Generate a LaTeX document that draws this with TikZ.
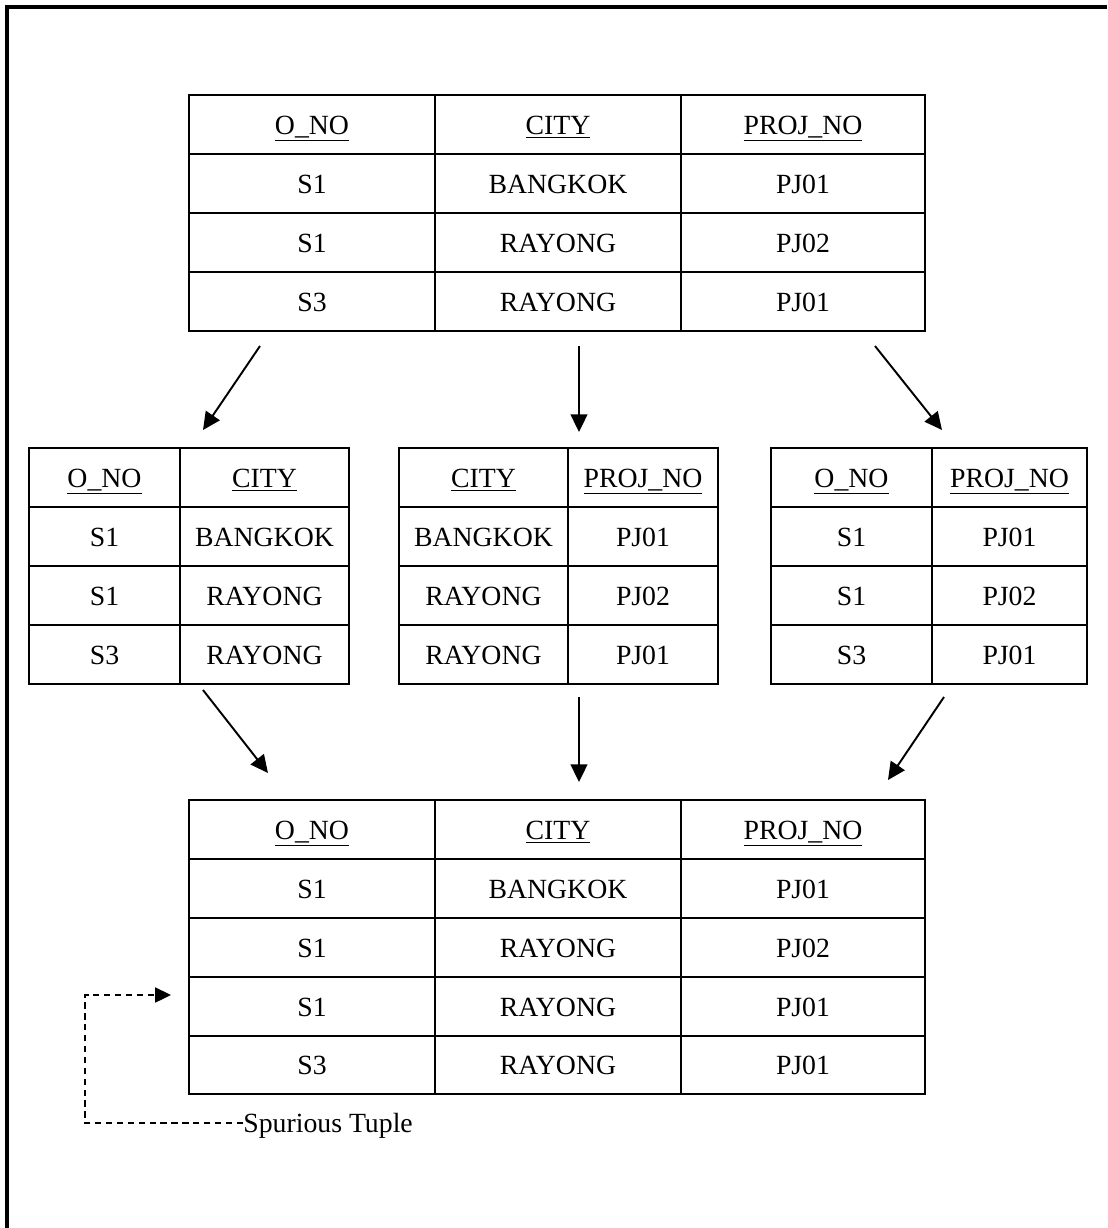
\documentclass[tikz,border=0pt]{standalone}
\usepackage{fontspec}
\setmainfont{Liberation Serif}
\usetikzlibrary{arrows.meta}

\begin{document}
\begin{tikzpicture}[x=0.02cm, y=-0.02cm,
    tbl/.style={line width=1.4pt},
    cell/.style={font=\fontsize{15.8}{19}\selectfont, inner sep=0pt, text height=11pt, text depth=0pt},
    flow/.style={line width=1.1pt, -{Triangle[length=10pt,width=9.5pt]}},
    spur/.style={line width=1.1pt, dash pattern=on 3.6pt off 2.6pt, -{Triangle[length=9pt,width=8.5pt]}}]
        \useasboundingbox (0,0) rectangle (1107,1228);
        % Frame
        \draw[line width=1.8pt] (7,1228) -- (7,7) -- (1107,7);

        % Original relation
        \begin{scope}[shift={(189,95)}]
            \draw[tbl] (0,0) rectangle (736,236);
            \draw[tbl] (0,59) -- (736,59) (0,118) -- (736,118) (0,177) -- (736,177);
            \draw[tbl] (246,0) -- (246,236) (492,0) -- (492,236);
            \node[cell] (r-h1) at (123,29.5) {\underline{O\_NO}};
            \node[cell] (r-h2) at (369,29.5) {\underline{CITY}};
            \node[cell] (r-h3) at (614,29.5) {\underline{PROJ\_NO}};
            \node[cell] (r-11) at (123,88.5) {S1};
            \node[cell] (r-12) at (369,88.5) {BANGKOK};
            \node[cell] (r-13) at (614,88.5) {PJ01};
            \node[cell] (r-21) at (123,147.5) {S1};
            \node[cell] (r-22) at (369,147.5) {RAYONG};
            \node[cell] (r-23) at (614,147.5) {PJ02};
            \node[cell] (r-31) at (123,206.5) {S3};
            \node[cell] (r-32) at (369,206.5) {RAYONG};
            \node[cell] (r-33) at (614,206.5) {PJ01};
        \end{scope}

        % Projection O_NO, CITY
        \begin{scope}[shift={(29,448)}]
            \draw[tbl] (0,0) rectangle (320,236);
            \draw[tbl] (0,59) -- (320,59) (0,118) -- (320,118) (0,177) -- (320,177);
            \draw[tbl] (151,0) -- (151,236);
            \node[cell] (p-h1) at (75.5,29.5) {\underline{O\_NO}};
            \node[cell] (p-h2) at (235.5,29.5) {\underline{CITY}};
            \node[cell] (p-11) at (75.5,88.5) {S1};
            \node[cell] (p-12) at (235.5,88.5) {BANGKOK};
            \node[cell] (p-21) at (75.5,147.5) {S1};
            \node[cell] (p-22) at (235.5,147.5) {RAYONG};
            \node[cell] (p-31) at (75.5,206.5) {S3};
            \node[cell] (p-32) at (235.5,206.5) {RAYONG};
        \end{scope}

        % Projection CITY, PROJ_NO
        \begin{scope}[shift={(399,448)}]
            \draw[tbl] (0,0) rectangle (319,236);
            \draw[tbl] (0,59) -- (319,59) (0,118) -- (319,118) (0,177) -- (319,177);
            \draw[tbl] (169,0) -- (169,236);
            \node[cell] (q-h1) at (84.5,29.5) {\underline{CITY}};
            \node[cell] (q-h2) at (244,29.5) {\underline{PROJ\_NO}};
            \node[cell] (q-11) at (84.5,88.5) {BANGKOK};
            \node[cell] (q-12) at (244,88.5) {PJ01};
            \node[cell] (q-21) at (84.5,147.5) {RAYONG};
            \node[cell] (q-22) at (244,147.5) {PJ02};
            \node[cell] (q-31) at (84.5,206.5) {RAYONG};
            \node[cell] (q-32) at (244,206.5) {PJ01};
        \end{scope}

        % Projection O_NO, PROJ_NO
        \begin{scope}[shift={(771,448)}]
            \draw[tbl] (0,0) rectangle (316,236);
            \draw[tbl] (0,59) -- (316,59) (0,118) -- (316,118) (0,177) -- (316,177);
            \draw[tbl] (161,0) -- (161,236);
            \node[cell] (s-h1) at (80.5,29.5) {\underline{O\_NO}};
            \node[cell] (s-h2) at (238.5,29.5) {\underline{PROJ\_NO}};
            \node[cell] (s-11) at (80.5,88.5) {S1};
            \node[cell] (s-12) at (238.5,88.5) {PJ01};
            \node[cell] (s-21) at (80.5,147.5) {S1};
            \node[cell] (s-22) at (238.5,147.5) {PJ02};
            \node[cell] (s-31) at (80.5,206.5) {S3};
            \node[cell] (s-32) at (238.5,206.5) {PJ01};
        \end{scope}

        % Natural join of the projections
        \begin{scope}[shift={(189,800)}]
            \draw[tbl] (0,0) rectangle (736,294);
            \draw[tbl] (0,59) -- (736,59) (0,118) -- (736,118) (0,177) -- (736,177) (0,236) -- (736,236);
            \draw[tbl] (246,0) -- (246,294) (492,0) -- (492,294);
            \node[cell] (j-h1) at (123,29.5) {\underline{O\_NO}};
            \node[cell] (j-h2) at (369,29.5) {\underline{CITY}};
            \node[cell] (j-h3) at (614,29.5) {\underline{PROJ\_NO}};
            \node[cell] (j-11) at (123,88.5) {S1};
            \node[cell] (j-12) at (369,88.5) {BANGKOK};
            \node[cell] (j-13) at (614,88.5) {PJ01};
            \node[cell] (j-21) at (123,147.5) {S1};
            \node[cell] (j-22) at (369,147.5) {RAYONG};
            \node[cell] (j-23) at (614,147.5) {PJ02};
            \node[cell] (j-31) at (123,206.5) {S1};
            \node[cell] (j-32) at (369,206.5) {RAYONG};
            \node[cell] (j-33) at (614,206.5) {PJ01};
            \node[cell] (j-41) at (123,265) {S3};
            \node[cell] (j-42) at (369,265) {RAYONG};
            \node[cell] (j-43) at (614,265) {PJ01};
        \end{scope}

        % Arrows
        \coordinate (a1) at (260,346);  \coordinate (b1) at (203,430);
        \coordinate (a2) at (579,346);  \coordinate (b2) at (579,432);
        \coordinate (a3) at (875,346);  \coordinate (b3) at (942,430);
        \coordinate (a4) at (203,690);  \coordinate (b4) at (268,773);
        \coordinate (a5) at (579,697);  \coordinate (b5) at (579,782);
        \coordinate (a6) at (944,697);  \coordinate (b6) at (888,780);
        \draw[flow] (a1) -- (b1);
        \draw[flow] (a2) -- (b2);
        \draw[flow] (a3) -- (b3);
        \draw[flow] (a4) -- (b4);
        \draw[flow] (a5) -- (b5);
        \draw[flow] (a6) -- (b6);

        % Spurious tuple marker
        \node[cell, anchor=west] (spurious) at (243,1123) {Spurious Tuple};
        \coordinate (tip) at (171,995);
        \draw[spur] (spurious.west) -- (85,1123) -- (85,995) -- (tip);
    \end{tikzpicture}
\end{document}
